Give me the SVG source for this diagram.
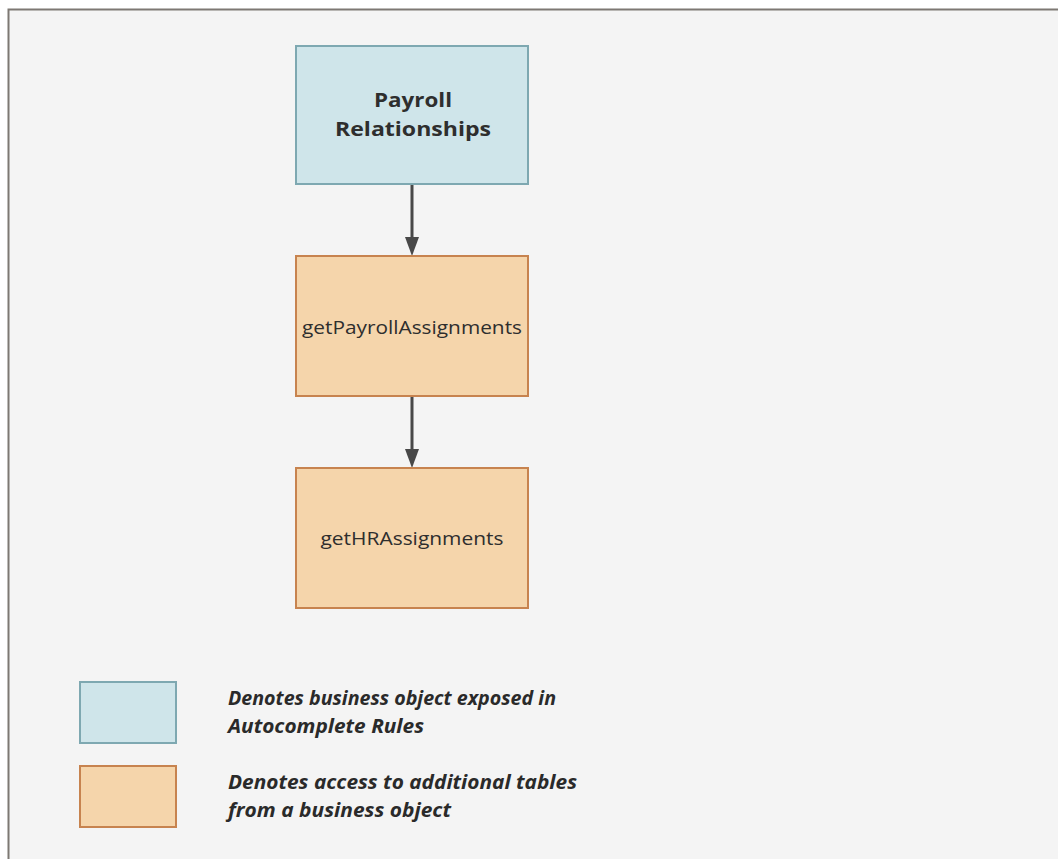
<svg xmlns="http://www.w3.org/2000/svg" width="1058" height="859" viewBox="0 0 1058 859">
<defs>
<style>
.bg{fill:#f4f4f4}
.blue{fill:#cfe5ea;stroke:#7ea8b1;stroke-width:2}
.orange{fill:#f5d5ab;stroke:#c7834f;stroke-width:2}
.conn{stroke:#484848;stroke-width:3;fill:none}
.t{font-family:"Open Sans","Noto Sans",sans-serif;fill:#2e2e2e;text-anchor:middle}
.b{font-weight:bold;font-size:20px}
.n{font-size:18px}
.leg{font-family:"Open Sans","Noto Sans",sans-serif;font-weight:bold;font-style:italic;font-size:19px;fill:#2a2a2a}
</style>
</defs>
<rect x="0" y="0" width="1058" height="859" fill="#ffffff"/>
<rect class="bg" x="8" y="9" width="1050" height="850"/>
<path d="M8.5,859 L8.5,9.5 L1058,9.5" fill="none" stroke="#7d7873" stroke-width="2"/>
<g id="connectors">
<line class="conn" x1="412" y1="184" x2="412" y2="238"/>
<path d="M405,237 L419,237 L412,256 Z" fill="#484848"/>
<line class="conn" x1="412" y1="396" x2="412" y2="450"/>
<path d="M405,449 L419,449 L412,468 Z" fill="#484848"/>
</g>
<g id="node-payroll-relationships">
<rect class="blue" x="296" y="46" width="232" height="138"/>
<text class="t b" x="413" y="107" textLength="78" lengthAdjust="spacingAndGlyphs">Payroll</text>
<text class="t b" x="413" y="136" textLength="156" lengthAdjust="spacingAndGlyphs">Relationships</text>
</g>
<g id="node-getPayrollAssignments">
<rect class="orange" x="296" y="256" width="232" height="140"/>
<text class="t n" x="412" y="334" textLength="220" lengthAdjust="spacingAndGlyphs">getPayrollAssignments</text>
</g>
<g id="node-getHRAssignments">
<rect class="orange" x="296" y="468" width="232" height="140"/>
<text class="t n" x="412" y="545" textLength="183" lengthAdjust="spacingAndGlyphs">getHRAssignments</text>
</g>
<g id="legend-blue">
<rect class="blue" x="80" y="682" width="96" height="61"/>
<text class="leg" x="228" y="705" textLength="328" lengthAdjust="spacingAndGlyphs">Denotes business object exposed in</text>
<text class="leg" x="228" y="733" textLength="196" lengthAdjust="spacingAndGlyphs">Autocomplete Rules</text>
</g>
<g id="legend-orange">
<rect class="orange" x="80" y="766" width="96" height="61"/>
<text class="leg" x="228" y="789" textLength="349" lengthAdjust="spacingAndGlyphs">Denotes access to additional tables</text>
<text class="leg" x="228" y="817" textLength="223" lengthAdjust="spacingAndGlyphs">from a business object</text>
</g>
</svg>
